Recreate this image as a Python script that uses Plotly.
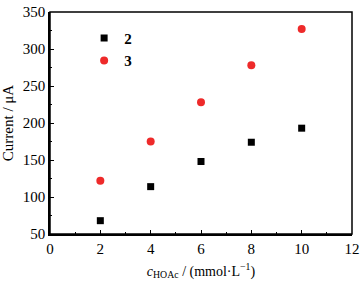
import plotly.graph_objects as go

x_vals = [2, 4, 6, 8, 10]
series2 = [68, 114, 148, 174, 193]
series3 = [122, 175, 228, 278, 327]
x_ticks = [0, 2, 4, 6, 8, 10, 12]
y_ticks = [50, 100, 150, 200, 250, 300, 350]

FONT = "Liberation Serif, Times New Roman, serif"

fig = go.Figure()
fig.add_trace(go.Scatter(x=x_vals, y=series2, mode="markers", name="<b>2</b>",
                         marker=dict(symbol="square", size=7, color="black")))
fig.add_trace(go.Scatter(x=x_vals, y=series3, mode="markers", name="<b>3</b>",
                         marker=dict(symbol="circle", size=8, color="#ee2a2a")))

axis_common = dict(showgrid=False, zeroline=False, showline=True, linecolor="black",
                   linewidth=1.5, ticks="inside", ticklen=4, tickwidth=1.2,
                   tickcolor="black", mirror=False, automargin=False,
                   tickfont=dict(family=FONT, size=15, color="black"))

fig.update_xaxes(range=[0, 12], tickvals=x_ticks,
                 minor=dict(dtick=1, ticks="inside", ticklen=2.5, tickcolor="black", tickwidth=1),
                 title=dict(text="<i>c</i><sub>HOAc</sub> / (mmol·L<sup>−1</sup>)",
                            font=dict(family=FONT, size=14, color="black"), standoff=10),
                 **axis_common)
fig.update_yaxes(range=[50, 350], tickvals=y_ticks,
                 minor=dict(dtick=25, ticks="inside", ticklen=2.5, tickcolor="black", tickwidth=1),
                 title=dict(text="Current / μA", font=dict(family=FONT, size=15, color="black"),
                            standoff=6),
                 **axis_common)

# frame on top and right
fig.add_shape(type="rect", xref="paper", yref="paper", x0=0, y0=0, x1=1, y1=1,
              line=dict(color="black", width=1.5))

fig.update_layout(
    width=363, height=283,
    margin=dict(l=50, r=11, t=12, b=49),
    plot_bgcolor="white", paper_bgcolor="white",
    showlegend=True,
    legend=dict(x=0.113, y=0.956, xanchor="left", yanchor="top",
                font=dict(family=FONT, size=15, color="black"),
                bgcolor="rgba(0,0,0,0)", itemwidth=30, tracegroupgap=0),
)

fig.write_html("out.html", config={"displayModeBar": False},
               post_script="document.body.style.margin='0';document.body.style.overflow='hidden';")
